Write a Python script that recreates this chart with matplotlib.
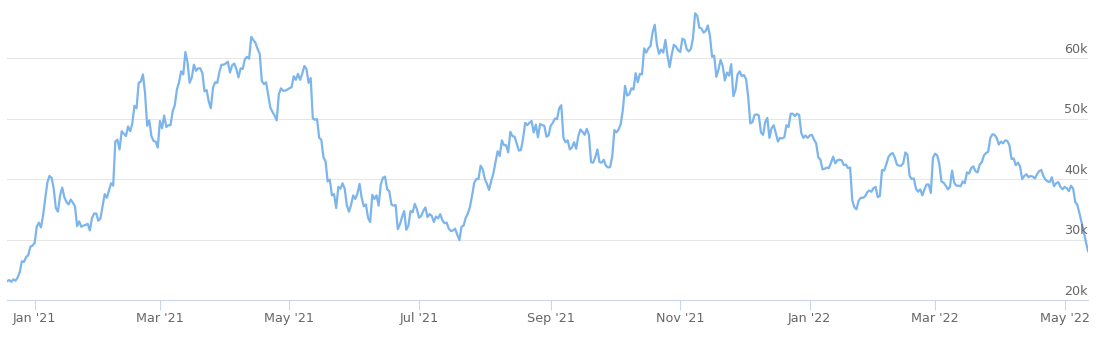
import matplotlib
matplotlib.use("Agg")
import matplotlib.pyplot as plt
import matplotlib.dates as mdates
import matplotlib.transforms as mtransforms
import pandas as pd

# ---- data (daily price, USD) ----
start_date = "2020-12-19"
dec_2020 = [23100, 23300, 23000, 23400, 23200, 23700, 24600, 26400, 26300, 27100, 27400, 28800, 29000]
jan_2021 = [29400, 32100, 32800, 32000, 34000, 36800, 39400, 40500, 40200, 38400, 35200, 34600, 37300,
            38600, 37000, 36200, 35800, 36600, 36100, 35500, 32200, 33000, 32100, 32300, 32400, 32600,
            31500, 33500, 34300, 34300, 33100]
feb_2021 = [33500, 35500, 37500, 36900, 38100, 39300, 38900, 46200, 46500, 44900, 47900, 47500, 47100,
            48700, 47900, 49200, 52100, 51700, 55900, 56100, 57300, 54200, 48800, 49700, 47100, 46300,
            46200, 45200]
mar_2021 = [49600, 48400, 50500, 48600, 48900, 48900, 51200, 52200, 54800, 56000, 57800, 57300, 61000,
            59300, 55900, 56800, 58900, 57900, 58300, 58300, 57500, 54500, 54700, 52800, 51700, 55100,
            56000, 55900, 57700, 58900, 58900]
apr_2021 = [59100, 59400, 57600, 58800, 59100, 58200, 56800, 58300, 58200, 59800, 60200, 59900, 63500,
            63000, 62500, 61500, 60700, 56200, 55700, 56000, 53900, 51800, 51100, 50500, 49700, 54000,
            55000, 54600, 54600, 54800]
may_2021 = [55000, 55200, 57000, 56400, 57400, 56400, 57400, 58700, 58200, 55900, 56700, 50000, 49800,
            49900, 46800, 46500, 43600, 42900, 39600, 39900, 37300, 37500, 35200, 38700, 38400, 39300,
            38400, 35700, 34600, 35700, 37300]
jun_2021 = [36700, 37600, 39200, 36900, 35500, 35800, 33600, 32900, 37400, 36700, 37300, 35600, 39100,
            40200, 40400, 38300, 38000, 35800, 35600, 35700, 31700, 32500, 33700, 34700, 31600, 32300,
            34700, 34500, 35900, 35000]
jul_2021 = [33600, 33900, 34700, 35300, 33700, 34200, 33900, 32900, 33800, 33500, 34200, 33200, 32700,
            32800, 31800, 31400, 31500, 31800, 30800, 29900, 32100, 32300, 33600, 34300, 35400, 37300,
            39400, 40000, 40000, 42200, 41600]
aug_2021 = [40000, 39200, 38200, 39700, 40900, 42800, 44600, 43800, 46400, 45600, 45600, 44400, 47800,
            47100, 47000, 45900, 44700, 44800, 46700, 49300, 48900, 49300, 49600, 47700, 49000, 46900,
            49100, 48900, 48800, 47000, 47200]
sep_2021 = [48800, 49300, 50000, 49900, 51700, 52200, 46800, 46100, 46400, 44900, 45200, 46100, 45000,
            47100, 48200, 47800, 47300, 48300, 47300, 42800, 42700, 43600, 44900, 42800, 42700, 43200,
            42200, 41900, 42000, 43800]
oct_2021 = [48100, 47700, 48200, 49100, 51500, 55400, 53800, 54000, 55000, 54800, 57500, 56000, 57400,
            57300, 61600, 60900, 61600, 62000, 64300, 65500, 62200, 60700, 61400, 60900, 63000, 60400,
            58500, 60600, 62200, 61900, 61300]
nov_2021 = [61000, 63200, 63000, 61500, 61100, 61500, 63300, 67400, 67000, 65000, 64900, 64200, 64500,
            65400, 63600, 60200, 60400, 56900, 58100, 59700, 58700, 56300, 57600, 57100, 59000, 53700,
            54700, 57300, 57800, 57000]
dec_2021 = [57200, 56500, 53600, 49200, 49400, 50600, 50700, 50500, 47700, 47300, 49400, 50100, 46800,
            48400, 48900, 47600, 46200, 46800, 46700, 46900, 48900, 48600, 50800, 50800, 50400, 50800,
            50600, 47600, 46800, 47200, 46800]
jan_2022 = [47200, 47300, 46500, 45900, 43600, 43200, 41600, 41700, 41900, 41800, 42700, 43700, 42600,
            43100, 43200, 43100, 42300, 42400, 41800, 41900, 36500, 35300, 35000, 36400, 36900, 36900,
            37100, 37800, 38100, 37900, 38500]
feb_2022 = [38700, 37000, 37200, 41500, 41400, 42400, 43600, 44100, 44300, 43600, 42400, 42200, 42200,
            42600, 44400, 44000, 40500, 40000, 40100, 38400, 37900, 38300, 37300, 38300, 39100, 39100,
            37700, 43500]
mar_2022 = [44200, 43900, 42500, 39600, 39400, 38900, 38300, 38700, 41400, 39400, 38900, 38900, 38800,
            39600, 39300, 41100, 40900, 41800, 42100, 41300, 41100, 42400, 42800, 43900, 44300, 44500,
            46800, 47400, 47300, 46800, 45700]
apr_2022 = [46200, 45900, 46400, 46300, 45600, 43300, 43400, 42300, 42700, 42100, 40000, 40500, 40800,
            40300, 40500, 40400, 40100, 40800, 41300, 41500, 40500, 39900, 39600, 39500, 40300, 38800,
            39300, 39500, 38700, 38300]
may_2022 = [38700, 38500, 38000, 38900, 38400, 36200, 35700, 34300, 32800, 31300, 29600, 28100]

y_ticks = [20000, 30000, 40000, 50000, 60000]
y_tick_labels = ["20k", "30k", "40k", "50k", "60k"]

values = (dec_2020 + jan_2021 + feb_2021 + mar_2021 + apr_2021 + may_2021 + jun_2021 + jul_2021
          + aug_2021 + sep_2021 + oct_2021 + nov_2021 + dec_2021 + jan_2022 + feb_2022 + mar_2022
          + apr_2022 + may_2022)
dates = pd.date_range(start_date, periods=len(values), freq="D")

# ---- figure ----
W, H = 1100, 354
fig = plt.figure(figsize=(W / 100, H / 100), dpi=100)
left_px, right_px, bottom_px, top_px = 7, 1088, 300, 0
ax = fig.add_axes([left_px / W, (H - bottom_px) / H, (right_px - left_px) / W, (bottom_px - top_px) / H])

ax.plot(dates, values, color="#7cb5ec", linewidth=1.6, solid_joinstyle="round", zorder=3)

ax.set_xlim(dates[0], dates[-1])
ax.set_ylim(20000, 69600)

# grid
ax.set_yticks(y_ticks)
ax.yaxis.grid(True, color="#e6e6e6", linewidth=0.75)
ax.set_axisbelow(True)
ax.tick_params(axis="y", length=0, labelleft=False, labelright=False)

# y labels drawn inside, right aligned, above the gridline
offset = mtransforms.ScaledTranslation(0, 1.5 / 72, fig.dpi_scale_trans)
for v, lab in zip(y_ticks, y_tick_labels):
    ax.text(1.0, v, lab, transform=ax.get_yaxis_transform() + offset, ha="right", va="bottom",
            fontsize=9.2, color="#666666", family="DejaVu Sans")

# x axis
ax.xaxis.set_major_locator(mdates.MonthLocator(bymonth=[1, 3, 5, 7, 9, 11]))
ax.xaxis.set_major_formatter(mdates.DateFormatter("%b '%y"))
ax.tick_params(axis="x", direction="out", length=7.2, width=0.75, color="#ccd6eb",
               labelsize=9.2, labelcolor="#666666", pad=1.5)

for s in ["top", "left", "right"]:
    ax.spines[s].set_visible(False)
ax.spines["bottom"].set_color("#ccd6eb")
ax.spines["bottom"].set_linewidth(0.75)
ax.spines["bottom"].set_zorder(4)

fig.savefig("out.png", dpi=100)
